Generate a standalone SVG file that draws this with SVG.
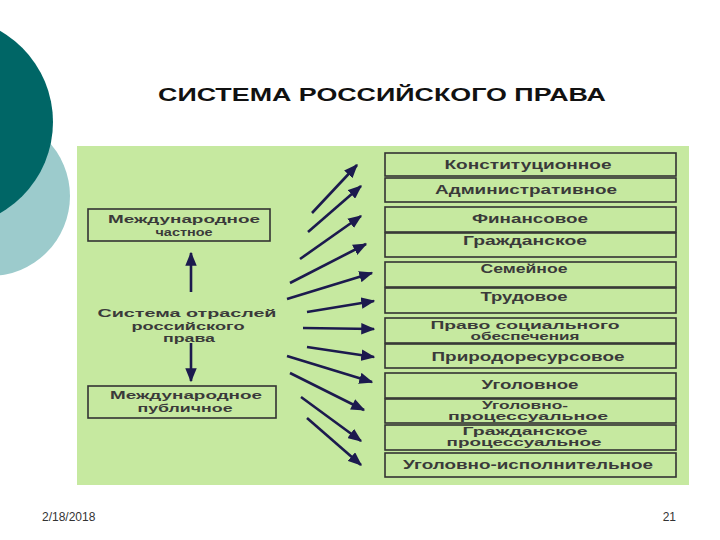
<svg xmlns="http://www.w3.org/2000/svg" width="720" height="540" viewBox="0 0 720 540">
<style>
.t{font-family:"Liberation Sans",Arial,sans-serif;font-weight:bold;font-size:12.5px;fill:#3a3a3a;text-anchor:middle}
.s{font-size:11px}
.m{font-size:11.5px}
.box{fill:#c6e9a0;stroke:#333;stroke-width:1.6}
.arr{stroke:#1c1a4e;stroke-width:2.6;fill:none;marker-end:url(#ah)}
</style>
<defs>
<marker id="ah" markerWidth="5.4" markerHeight="4.4" refX="4.9" refY="2.2" orient="auto" markerUnits="strokeWidth">
<path d="M0,0 L5.4,2.2 L0,4.4 Z" fill="#1c1a4e"/>
</marker>
</defs>
<rect width="720" height="540" fill="#fff"/>
<circle cx="-10" cy="196" r="80" fill="#9ccbcc"/>
<circle cx="-52" cy="122" r="105" fill="#006666"/>
<text x="382" y="101" font-family="Liberation Sans,Arial,sans-serif" font-weight="bold" font-size="19" text-anchor="middle" fill="#111" textLength="448" lengthAdjust="spacingAndGlyphs">СИСТЕМА РОССИЙСКОГО ПРАВА</text>
<rect x="77" y="146" width="612" height="339" fill="#c6e9a0"/>
<g id="n-ch"><rect class="box" x="88" y="209" width="182" height="32"/>
<text class="t m" x="184" y="223" textLength="152" lengthAdjust="spacingAndGlyphs">Международное</text>
<text class="t m" x="184" y="235.5" textLength="57" lengthAdjust="spacingAndGlyphs">частное</text></g>
<g id="n-sys">
<text class="t m" x="187" y="317" textLength="179" lengthAdjust="spacingAndGlyphs">Система  отраслей</text>
<text class="t m" x="188" y="329.5" textLength="113" lengthAdjust="spacingAndGlyphs">российского</text>
<text class="t m" x="189" y="342" textLength="52" lengthAdjust="spacingAndGlyphs">права</text></g>
<g id="n-pub"><rect class="box" x="88" y="386" width="188" height="32"/>
<text class="t m" x="186" y="399" textLength="152" lengthAdjust="spacingAndGlyphs">Международное</text>
<text class="t m" x="185" y="411.5" textLength="95" lengthAdjust="spacingAndGlyphs">публичное</text></g>
<g id="r1"><rect class="box" x="385" y="153" width="291" height="23"/><text class="t" x="528" y="168.5" textLength="167" lengthAdjust="spacingAndGlyphs">Конституционное</text></g>
<g id="r2"><rect class="box" x="385" y="178" width="291" height="24"/><text class="t" x="526" y="193.5" textLength="182" lengthAdjust="spacingAndGlyphs">Административное</text></g>
<g id="r3"><rect class="box" x="385" y="207" width="291" height="25"/><text class="t" x="530" y="222.5" textLength="116" lengthAdjust="spacingAndGlyphs">Финансовое</text></g>
<g id="r4"><rect class="box" x="385" y="233" width="291" height="24"/><text class="t" x="525" y="244.5" textLength="124" lengthAdjust="spacingAndGlyphs">Гражданское</text></g>
<g id="r5"><rect class="box" x="385" y="262" width="291" height="25"/><text class="t" x="524" y="272.5" textLength="87" lengthAdjust="spacingAndGlyphs">Семейное</text></g>
<g id="r6"><rect class="box" x="385" y="288" width="291" height="25"/><text class="t" x="524" y="300.5" textLength="87" lengthAdjust="spacingAndGlyphs">Трудовое</text></g>
<g id="r7"><rect class="box" x="385" y="318" width="291" height="25"/><text class="t s" x="525" y="329" textLength="189" lengthAdjust="spacingAndGlyphs">Право  социального</text><text class="t s" x="525" y="340" textLength="109" lengthAdjust="spacingAndGlyphs">обеспечения</text></g>
<g id="r8"><rect class="box" x="385" y="344" width="291" height="24"/><text class="t" x="528" y="360.5" textLength="193" lengthAdjust="spacingAndGlyphs">Природоресурсовое</text></g>
<g id="r9"><rect class="box" x="385" y="373" width="291" height="25"/><text class="t" x="530" y="388.5" textLength="97" lengthAdjust="spacingAndGlyphs">Уголовное</text></g>
<g id="r10"><rect class="box" x="385" y="399" width="291" height="24"/><text class="t s" x="525" y="408.5" textLength="86" lengthAdjust="spacingAndGlyphs">Уголовно-</text><text class="t s" x="528" y="419.5" textLength="160" lengthAdjust="spacingAndGlyphs">процессуальное</text></g>
<g id="r11"><rect class="box" x="385" y="425" width="291" height="25"/><text class="t s" x="525" y="434.5" textLength="125" lengthAdjust="spacingAndGlyphs">Гражданское</text><text class="t s" x="524" y="445.5" textLength="155" lengthAdjust="spacingAndGlyphs">процессуальное</text></g>
<g id="r12"><rect class="box" x="385" y="453" width="291" height="24"/><text class="t" x="528" y="468.5" textLength="250" lengthAdjust="spacingAndGlyphs">Уголовно-исполнительное</text></g>
<g id="connectors">
<line class="arr" x1="191" y1="292" x2="191" y2="253"/>
<line class="arr" x1="191" y1="343" x2="191" y2="381"/>
<line class="arr" x1="312" y1="213" x2="357" y2="165"/>
<line class="arr" x1="308" y1="232" x2="361" y2="186"/>
<line class="arr" x1="300" y1="259" x2="361" y2="216"/>
<line class="arr" x1="290" y1="283" x2="366" y2="244"/>
<line class="arr" x1="287" y1="299" x2="372" y2="273"/>
<line class="arr" x1="307" y1="312" x2="374" y2="301"/>
<line class="arr" x1="303" y1="328" x2="374" y2="329"/>
<line class="arr" x1="307" y1="347" x2="374" y2="357"/>
<line class="arr" x1="287" y1="356" x2="372" y2="382"/>
<line class="arr" x1="290" y1="373" x2="364" y2="410"/>
<line class="arr" x1="301" y1="397" x2="361" y2="441"/>
<line class="arr" x1="307" y1="418" x2="361" y2="465"/>
</g>
<text x="42" y="521" font-family="Liberation Sans,Arial,sans-serif" font-size="12" fill="#333">2/18/2018</text>
<text x="676" y="521" font-family="Liberation Sans,Arial,sans-serif" font-size="12" fill="#333" text-anchor="end">21</text>
</svg>
